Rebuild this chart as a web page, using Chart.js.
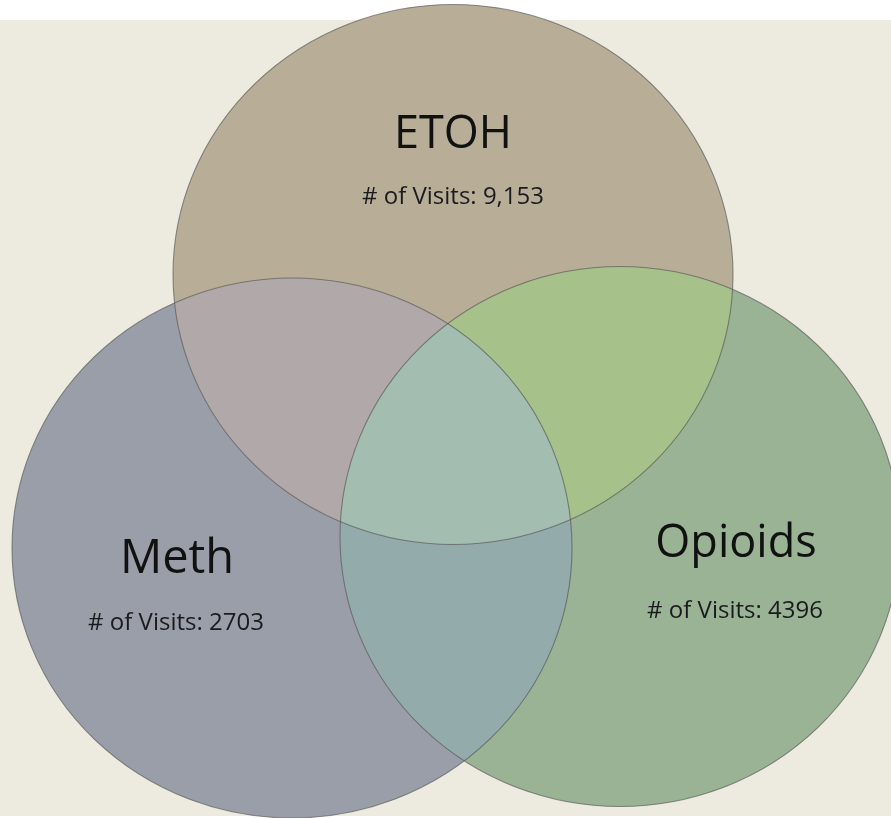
<!DOCTYPE html>
<html>
<head>
<meta charset="utf-8">
<script src="https://cdn.jsdelivr.net/npm/chart.js@4/dist/chart.umd.min.js"></script>
<style>
  html, body { margin: 0; padding: 0; background: #ffffff; overflow: hidden; }
  #wrap { width: 891px; height: 818px; position: relative; }
  canvas { display: block; }
</style>
</head>
<body>
<div id="wrap"><canvas id="c" width="891" height="818"></canvas></div>
<script>
// ---- data ----
const categories = ['ETOH', 'Meth', 'Opioids'];
const visitCounts = ['9,153', '2703', '4396'];
const visitPrefix = '# of Visits: ';
// Venn circle centres (in page units)
const centerX = [453, 292, 620];
const centerY = [274.5, 548, 536.5];

// ---- styling / layout ----
const W = 891, H = 818;
const RX = 280, RY = 270;          // ellipse radii
const K = RY / RX;                  // vertical squash
const soloFill = ['#B8AD96', '#9A9EA8', '#99B394'];
const pairFill = { EM: '#B1A9A9', EO: '#A7C18A', MO: '#94ABAC' };
const tripleFill = '#A4BDB1';
const titleOffset = [[0, -127], [-115, 25], [116, 20]];
const visitOffset = [[0, -71], [-116, 82], [115, 81]];
const titleFontSize = [45, 47, 45];
const visitFont = '24px "Open Sans"';

const vennPlugin = {
  id: 'venn',
  beforeDraw(chart) {
    const ctx = chart.ctx;
    ctx.save();
    ctx.fillStyle = '#ffffff';
    ctx.fillRect(0, 0, W, H);
    ctx.fillStyle = '#EDEBE0';
    ctx.fillRect(0, 20, W, 796);
    ctx.restore();
  },
  beforeDatasetsDraw(chart) {
    chart.ctx.save();
    chart.ctx.scale(1, K);
  },
  afterDatasetsDraw(chart) {
    const ctx = chart.ctx;
    const els = categories.map((c, i) => chart.getDatasetMeta(i).data[0]);
    const path = (el) => {
      ctx.beginPath();
      ctx.arc(el.x, el.y, el.options.radius, 0, Math.PI * 2);
    };
    const fillIn = (clips, target, color) => {
      ctx.save();
      clips.forEach(el => { path(el); ctx.clip(); });
      path(target);
      ctx.fillStyle = color;
      ctx.fill();
      ctx.restore();
    };
    const [E, M, O] = els;
    fillIn([E], M, pairFill.EM);
    fillIn([E], O, pairFill.EO);
    fillIn([M], O, pairFill.MO);
    fillIn([E, M], O, tripleFill);
    // outlines
    els.forEach(el => {
      path(el);
      ctx.lineWidth = 1.1;
      ctx.strokeStyle = 'rgba(85,85,85,0.65)';
      ctx.stroke();
    });
    ctx.restore();

    // labels
    ctx.save();
    ctx.textAlign = 'center';
    ctx.textBaseline = 'alphabetic';
    els.forEach((el, i) => {
      const x = el.x, y = el.y * K;
      ctx.fillStyle = '#111111';
      ctx.font = titleFontSize[i] + 'px "Open Sans"';
      ctx.fillText(categories[i], x + titleOffset[i][0], y + titleOffset[i][1]);
      ctx.fillStyle = '#1b1b1f';
      ctx.font = visitFont;
      ctx.fillText(visitPrefix + visitCounts[i], x + visitOffset[i][0], y + visitOffset[i][1]);
    });
    ctx.restore();
  }
};

function build() {
  new Chart(document.getElementById('c'), {
    type: 'bubble',
    data: {
      datasets: categories.map((c, i) => ({
        label: c,
        data: [{ x: centerX[i], y: centerY[i], r: RX }],
        backgroundColor: soloFill[i],
        borderWidth: 0,
        hoverRadius: 0,
        hoverBorderWidth: 0,
        clip: false
      }))
    },
    options: {
      responsive: false,
      animation: false,
      events: [],
      layout: { padding: 0, autoPadding: false },
      plugins: { legend: { display: false }, tooltip: { enabled: false }, title: { display: false } },
      scales: {
        x: { type: 'linear', min: 0, max: W, display: false },
        y: { type: 'linear', min: 0, max: H * K, reverse: true, display: false }
      }
    },
    plugins: [vennPlugin]
  });
}

Promise.all([
  document.fonts.load('45px "Open Sans"'),
  document.fonts.load(visitFont)
]).then(build, build);
</script>
</body>
</html>
